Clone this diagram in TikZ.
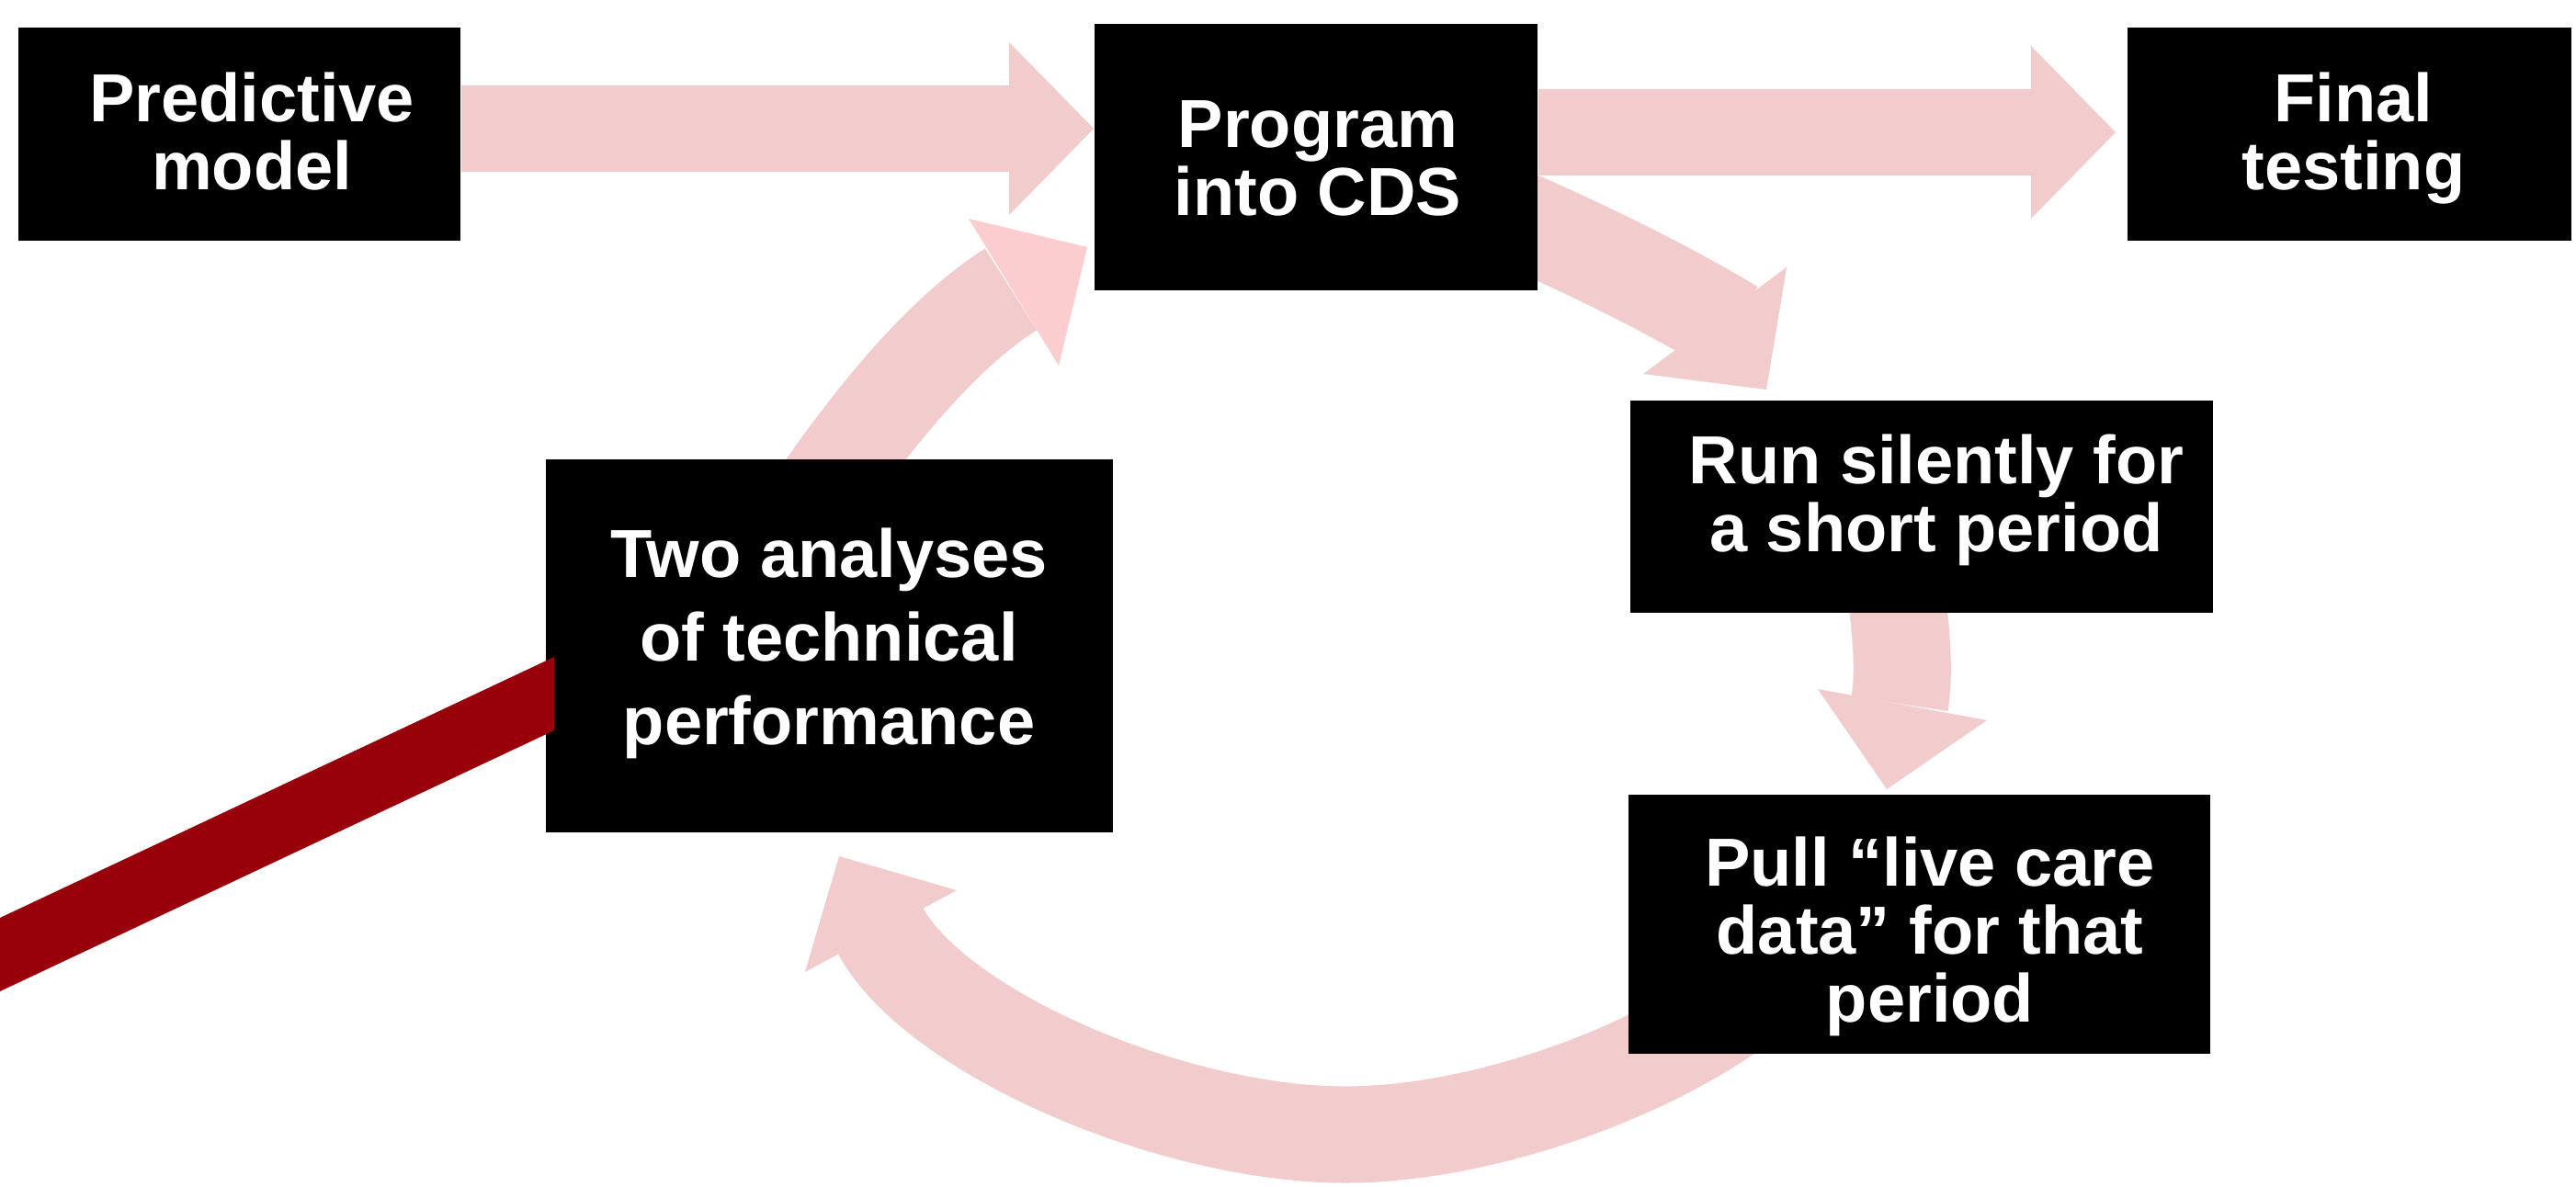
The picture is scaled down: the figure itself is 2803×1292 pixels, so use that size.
\documentclass[tikz,border=0pt]{standalone}
\usepackage{fontspec}
\setmainfont{Liberation Sans}
\usetikzlibrary{calc}
\pgfdeclarelayer{background}
\pgfdeclarelayer{canvas}
\pgfsetlayers{canvas,background,main}
\definecolor{arrowpink}{RGB}{242,204,205}
\definecolor{headpink}{RGB}{251,205,206}
\definecolor{barred}{RGB}{152,0,10}
\tikzset{
  box/.style={rectangle, fill=black, draw=none, inner sep=0pt},
  boxtext/.style={anchor=north, inner sep=0pt, text=white, align=center,
    font=\bfseries\fontsize{21.05pt}{21.05pt}\selectfont},
  widetext/.style={boxtext, font=\bfseries\fontsize{21.05pt}{25.9pt}\selectfont},
  shaft/.style={draw=arrowpink, line width=1.05cm, line cap=butt},
}
\begin{document}
\begin{tikzpicture}[x=0.01cm, y=-0.01cm]
\begin{pgfonlayer}{canvas}
\fill[white] (0,0) rectangle (2803,1292);
\end{pgfonlayer}
\path[use as bounding box] (0,0) rectangle (2803,1292);

% boxes
\node[box, minimum width=4.81cm, minimum height=2.32cm] (pm) at (260.5,146) {};
\node[box, minimum width=4.82cm, minimum height=2.90cm] (prog) at (1432,171) {};
\node[box, minimum width=4.83cm, minimum height=2.32cm] (fin) at (2556.5,146) {};
\node[box, minimum width=6.34cm, minimum height=2.31cm] (run) at (2091,551.5) {};
\node[box, minimum width=6.33cm, minimum height=2.82cm] (pull) at (2088.5,1006) {};
\node[box, minimum width=6.17cm, minimum height=4.06cm] (ta) at (902.5,703) {};

% texts
\node[boxtext] (pmt) at (274,78) {Predictive\\model};
\node[boxtext] (progt) at (1434,109) {Program\\into CDS};
\node[boxtext] (fint) at (2561,78) {Final\\testing};
\node[boxtext] (runt) at (2107,472) {Run silently for\\a short period};
\node[boxtext] (pullt) at (2100,910) {Pull “live care\\data” for that\\period};
\node[widetext] (tat) at (902,574) {Two analyses\\of technical\\performance};

\begin{pgfonlayer}{background}
% straight block arrows
\fill[arrowpink] (pm.east |- 0,93) -- (1098,93) -- (1098,46) -- (prog.west |- 0,140)
  -- (1098,234) -- (1098,187) -- (pm.east |- 0,187) -- cycle;
\fill[arrowpink] (prog.east |- 0,97) -- (2210,97) -- (2210,50) -- (2302,144)
  -- (2210,238) -- (2210,191) -- (prog.east |- 0,191) -- cycle;

% Program -> Run silently
\draw[shaft] ($(prog.east)+(-43,59)$) .. controls (1704,260) and (1817,315) .. (1885,357);
\fill[arrowpink] (1944,291) -- (1922,424) -- (1788,407) -- cycle;

% Run silently -> Pull
\draw[shaft, line width=1.06cm] ($(run.south)+(-28,-27)$) .. controls (2070,700) and (2072,735) .. (2067,766);
\fill[arrowpink] (1978,750) -- (2053,859) -- (2162,784) -- cycle;

% Pull -> Two analyses
\draw[shaft] ($(pull.center)+(-118.5,7)$) .. controls (1910.5,1123) and (1654,1235) .. (1464,1235)
  .. controls (1274,1235) and (1017.5,1123) .. (958,1013);
\fill[arrowpink] (1041,969) -- (913,932) -- (876,1058) -- cycle;

% Two analyses -> Program
\draw[shaft] ($(ta.north)+(-5.5,33)$) .. controls (948,459) and (1023.5,363) .. (1100,315);
\fill[headpink] (1054,238) -- (1183,269) -- (1152,398) -- cycle;
\end{pgfonlayer}

% dark red bar into Two analyses
\coordinate (barstart) at (0,1039);
\coordinate (barend) at ($(ta.west)+(10,52)$);
\fill[barred] ($(barstart)+(0,-40)$) -- ($(barend)+(0,-40)$) -- ($(barend)+(0,40)$)
  -- ($(barstart)+(0,40)$) -- cycle;
\end{tikzpicture}
\end{document}
